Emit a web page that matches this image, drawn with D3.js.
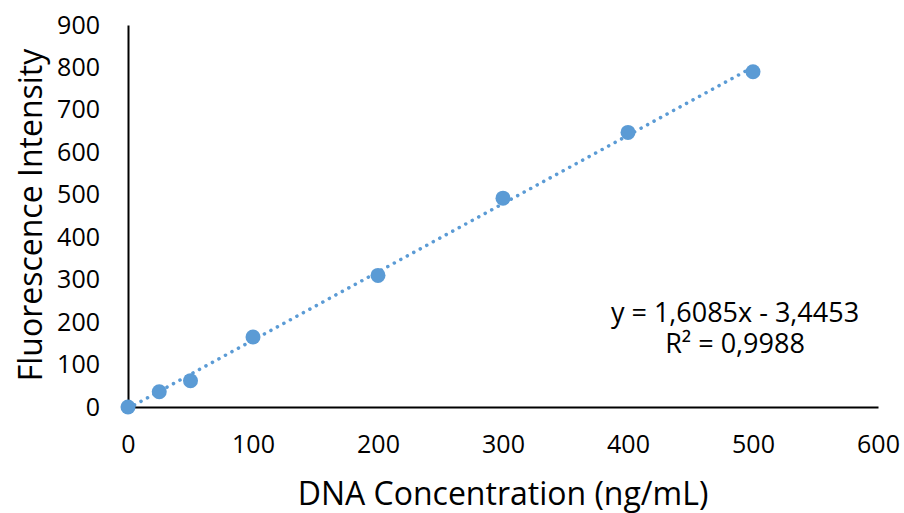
<!DOCTYPE html>
<html>
<head>
<meta charset="utf-8">
<script src="https://cdn.jsdelivr.net/npm/d3@7"></script>
<style>
  body { margin: 0; background: #fff; }
  text { font-family: "Open Sans", "Liberation Sans", sans-serif; fill: #000; }
</style>
</head>
<body>
<div id="chart"></div>
<script>
const concentration = [0, 25, 50, 100, 200, 300, 400, 500]
const intensity = [0, 36, 62, 165, 310, 492, 647, 790]
const xTicks = [0, 100, 200, 300, 400, 500, 600]
const yTicks = [0, 100, 200, 300, 400, 500, 600, 700, 800, 900]
const slope = 1.6085
const intercept = -3.4453
const equationLines = ["y = 1,6085x - 3,4453", "R\u00B2 = 0,9988"]

const width = 904
const height = 513
const margin = { left: 128, right: 26, top: 25, bottom: 106 }

const xScale = d3.scaleLinear()
                  .domain([0, 600])
                  .range([margin.left, width - margin.right])

const yScale = d3.scaleLinear()
                  .domain([0, 900])
                  .range([height - margin.bottom, margin.top])

const svg = d3.select("#chart")
              .append("svg")
                .attr("width", width)
                .attr("height", height)

// Trendline
const trend = [0, 500].map(x => [x, slope * x + intercept])
svg.append("line")
    .attr("x1", xScale(trend[0][0]))
    .attr("y1", yScale(trend[0][1]))
    .attr("x2", xScale(trend[1][0]))
    .attr("y2", yScale(trend[1][1]))
    .attr("stroke", "#5B9BD5")
    .attr("stroke-width", 3.5)
    .attr("stroke-linecap", "round")
    .attr("stroke-dasharray", "0.1 7.3")

// Axes
const xAxis = d3.axisBottom(xScale).tickValues(xTicks).tickSize(0).tickPadding(28)
const yAxis = d3.axisLeft(yScale).tickValues(yTicks).tickSize(0).tickPadding(28)

const gx = svg.append("g")
    .attr("transform", "translate(0," + yScale(0) + ")")
    .call(xAxis)
gx.select(".domain").attr("stroke", "#000").attr("stroke-width", 2)
gx.selectAll("text").attr("font-size", 25)

const gy = svg.append("g")
    .attr("transform", "translate(" + xScale(0) + ",0)")
    .call(yAxis)
gy.select(".domain").attr("stroke", "#000").attr("stroke-width", 2)
gy.selectAll("text").attr("font-size", 25)

// Points
svg.selectAll("circle.dot")
    .data(concentration)
    .enter()
    .append("circle")
      .attr("class", "dot")
      .attr("cx", (d, i) => xScale(d))
      .attr("cy", (d, i) => yScale(intensity[i]))
      .attr("r", 7.5)
      .attr("fill", "#5B9BD5")

// Axis titles
svg.append("text")
    .text("DNA Concentration (ng/mL)")
    .attr("text-anchor", "middle")
    .attr("font-size", 32)
    .attr("x", 503)
    .attr("y", 505)

svg.append("text")
    .text("Fluorescence Intensity")
    .attr("text-anchor", "middle")
    .attr("font-size", 32)
    .attr("transform", "translate(42,215)rotate(-90)")

// Trendline label (one text block, two lines)
svg.append("text")
    .attr("text-anchor", "middle")
    .attr("font-size", 27)
    .attr("y", 322)
  .selectAll("tspan")
    .data(equationLines)
    .enter()
    .append("tspan")
      .attr("x", 735)
      .attr("dy", (d, i) => i === 0 ? 0 : 31)
      .text(d => d)
</script>
</body>
</html>
